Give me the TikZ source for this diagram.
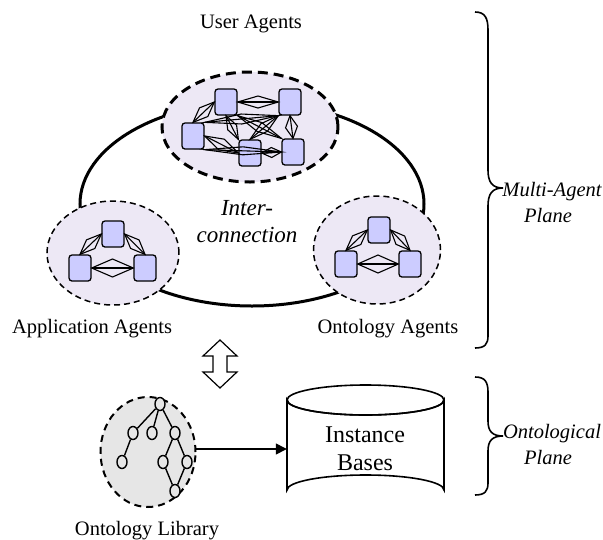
\documentclass[tikz,border=0pt]{standalone}
\usepackage{fontspec}
\setmainfont{Liberation Serif}
\usetikzlibrary{shapes.geometric,calc,arrows.meta}
\definecolor{lav}{HTML}{EDE8F5}
\definecolor{agentblue}{HTML}{CCCCFF}
\definecolor{libgray}{HTML}{E6E6E6}
\newcommand\dlink[3]{%
  \path (#2) -- (#3) coordinate[pos=0] (dlA) coordinate[pos=1] (dlB);
  \draw[line width=1.1pt] (dlA) -- (dlB);
  \draw[line width=1.1pt,line join=miter] (dlA) -- ($(dlA)!0.5!(dlB)!#1!90:(dlB)$) -- (dlB) -- ($(dlA)!0.5!(dlB)!#1!-90:(dlB)$) -- cycle;}
\begin{document}
\begin{tikzpicture}[x=1pt,y=-1pt,
  lbl/.style={font=\fontsize{20.5}{24}\selectfont,inner sep=0pt,anchor=base},
  ilbl/.style={font=\fontsize{20.5}{24}\selectfont\itshape,inner sep=0pt,anchor=base},
  agent/.style={draw,fill=agentblue,rounded corners=3pt,minimum width=22pt,minimum height=26pt,inner sep=0pt,line width=1.3pt},
  group/.style={ellipse,draw,fill=lav,inner sep=0pt},
  tn/.style={ellipse,draw,fill=libgray,minimum width=10pt,minimum height=13pt,inner sep=0pt,line width=1.4pt},
  brace/.style={line width=1.6pt}]
\useasboundingbox (0,0) rectangle (603,539);
% interconnection loop
\draw[line width=3pt] (252,204) ellipse[x radius=172,y radius=102];
% user agents
\node[group,line width=3pt,dash pattern=on 10pt off 6pt,minimum width=176pt,minimum height=110pt] (ug) at (250,127) {};
\node[agent] (u1) at (226,102) {};
\node[agent] (u2) at (290,102) {};
\node[agent] (u3) at (193,136) {};
\node[agent] (u4) at (250,153) {};
\node[agent] (u5) at (293,152) {};
\dlink{6pt}{u1.east}{u2.west}
\dlink{6pt}{u3.north}{u1.west}
\dlink{6pt}{u2.south}{u5.north}
\dlink{5pt}{u4.east}{u5.west}
\dlink{6pt}{u3.east}{u4.west}
\dlink{5pt}{u3.north east}{u2.south west}
\dlink{5pt}{u1.south}{u4.north west}
\dlink{5pt}{u1.south east}{u5.north west}
\dlink{5pt}{u2.south west}{u4.north}
\dlink{4pt}{u3.south east}{u5.west}
% application agents
\node[group,line width=1.5pt,dash pattern=on 6pt off 4pt,minimum width=132pt,minimum height=104pt] (ag) at (113,253) {};
\node[agent] (a1) at (113,234) {};
\node[agent] (a2) at (80,268) {};
\node[agent] (a3) at (145,268) {};
\dlink{9pt}{a2}{a3}
\dlink{6pt}{a2.north}{a1.west}
\dlink{6pt}{a3.north}{a1.east}
% ontology agents
\node[group,line width=1.5pt,dash pattern=on 6pt off 4pt,minimum width=127pt,minimum height=108pt] (og) at (377,250) {};
\node[agent] (o1) at (379,230) {};
\node[agent] (o2) at (346,264) {};
\node[agent] (o3) at (410,264) {};
\dlink{9pt}{o2}{o3}
\dlink{6pt}{o2.north}{o1.west}
\dlink{6pt}{o3.north}{o1.east}
% labels
\node[lbl] (ut) at (251,28) {User Agents};
\node[lbl] (at) at (92,333) {Application Agents};
\node[lbl] (ot) at (388,333) {Ontology Agents};
\node[ilbl,font=\fontsize{23}{26}\selectfont\itshape] (ic1) at (247,215) {Inter-};
\node[ilbl,font=\fontsize{23}{26}\selectfont\itshape] (ic2) at (247,242) {connection};
% double arrow
\draw[line width=1.2pt,fill=white] (220,340) -- (237,356) -- (227,356) -- (227,372) -- (237,372) -- (220,388) -- (203,372) -- (213,372) -- (213,356) -- (203,356) -- cycle;
% ontology library
\node[ellipse,draw,fill=libgray,line width=2pt,dash pattern=on 7pt off 5pt,minimum width=95pt,minimum height=110pt,inner sep=0pt] (lib) at (148,452) {};
\node[tn] (t1) at (160,404) {};
\node[tn] (t2) at (133,433) {};
\node[tn] (t3) at (152,433) {};
\node[tn] (t4) at (175,433) {};
\node[tn] (t5) at (122,462) {};
\node[tn] (t6) at (163,462) {};
\node[tn] (t7) at (187,462) {};
\node[tn] (t8) at (175,491) {};
\foreach \a/\b in {t1/t2,t1/t3,t1/t4,t2/t5,t4/t6,t4/t7,t6/t8,t7/t8}
  \draw[line width=1.4pt] (\a) -- (\b);
\node[lbl] (lt) at (147,535) {Ontology Library};
% instance bases cylinder
\draw[line width=1.6pt,fill=white] (287,400) -- (287,490) arc[start angle=180,end angle=360,x radius=78.5,y radius=15] -- (444,400) arc[start angle=0,end angle=180,x radius=78.5,y radius=15] -- cycle;
\draw[line width=1.6pt] (365.5,400) ellipse[x radius=78.5,y radius=15];
\node[minimum width=157pt,minimum height=90pt,inner sep=0pt] (ib) at (365.5,445) {};
\node[lbl,font=\fontsize{24}{28}\selectfont] (ib1) at (365,442) {Instance};
\node[lbl,font=\fontsize{24}{28}\selectfont] (ib2) at (365,470) {Bases};
\coordinate (arrs) at (196,449);
\draw[line width=1.4pt,-{Triangle[length=11pt,width=11pt]}] (arrs) -- (arrs -| ib.west);
% braces
\coordinate (b1t) at (475,12);
\coordinate (b1m) at (503,188);
\coordinate (b1b) at (475,348);
\draw[brace] (b1t) .. controls (485,12) and (488,18) .. (488,30) -- (488,170) .. controls (488,182) and (492,188) .. (b1m) .. controls (492,188) and (488,194) .. (488,206) -- (488,336) .. controls (488,344) and (485,348) .. (b1b);
\node[ilbl] (mp1) at (552,196) {Multi-Agent};
\node[ilbl] (mp2) at (548,222) {Plane};
\coordinate (b2t) at (475,377);
\coordinate (b2m) at (503,436);
\coordinate (b2b) at (475,495);
\draw[brace] (b2t) .. controls (485,377) and (488,382) .. (488,392) -- (488,421) .. controls (488,431) and (492,436) .. (b2m) .. controls (492,436) and (488,441) .. (488,451) -- (488,483) .. controls (488,491) and (485,495) .. (b2b);
\node[ilbl] (op1) at (552,438) {Ontological};
\node[ilbl] (op2) at (548,464) {Plane};
\end{tikzpicture}
\end{document}
